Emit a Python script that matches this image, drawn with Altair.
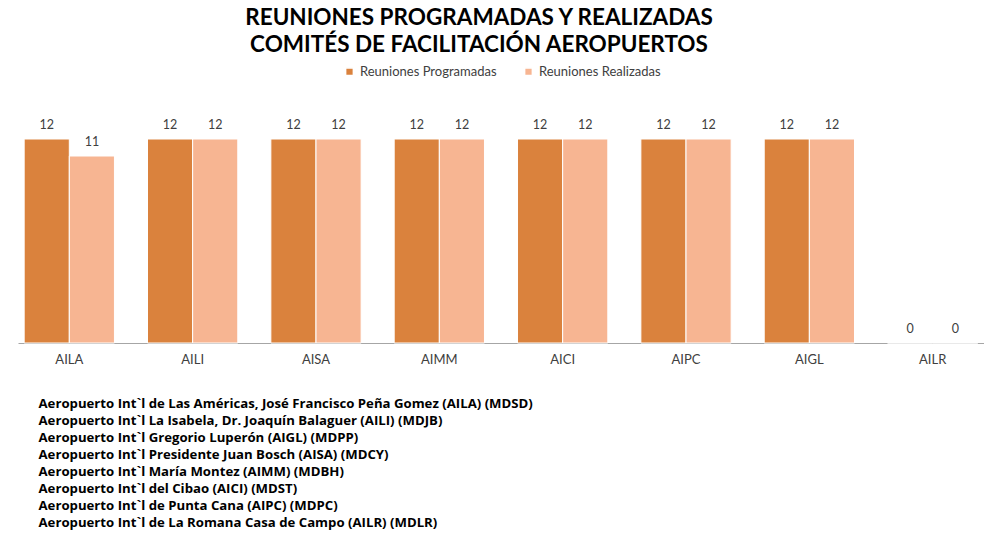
import altair as alt
import pandas as pd

airports = ["AILA", "AILI", "AISA", "AIMM", "AICI", "AIPC", "AIGL", "AILR"]
programadas = [12, 12, 12, 12, 12, 12, 12, 0]
realizadas = [11, 12, 12, 12, 12, 12, 12, 0]
series = ["Reuniones Programadas", "Reuniones Realizadas"]
colors = ["#DA823D", "#F7B592"]
notes = [
    "Aeropuerto Int`l de Las Américas, José Francisco Peña Gomez (AILA) (MDSD)",
    "Aeropuerto Int`l La Isabela, Dr. Joaquín Balaguer (AILI) (MDJB)",
    "Aeropuerto Int`l Gregorio Luperón (AIGL) (MDPP)",
    "Aeropuerto Int`l Presidente Juan Bosch (AISA) (MDCY)",
    "Aeropuerto Int`l María Montez (AIMM) (MDBH)",
    "Aeropuerto Int`l del Cibao (AICI) (MDST)",
    "Aeropuerto Int`l de Punta Cana (AIPC) (MDPC)",
    "Aeropuerto Int`l de La Romana Casa de Campo (AILR) (MDLR)",
]

rows = []
for a, p, r in zip(airports, programadas, realizadas):
    rows.append({"Aeropuerto": a, "Serie": series[0], "Valor": p})
    rows.append({"Aeropuerto": a, "Serie": series[1], "Valor": r})
df = pd.DataFrame(rows)

FONT = "Lato"
LEFT = 18

x = alt.X(
    "Aeropuerto:N",
    sort=airports,
    scale=alt.Scale(paddingInner=0.268, paddingOuter=0.05),
    axis=alt.Axis(
        title=notes,
        titleFont="Open Sans",
        titleFontSize=13.2,
        titleFontWeight="bold",
        titleColor="#000000",
        titleLineHeight=17,
        titleAlign="left",
        titleAnchor="start",
        titleBaseline="top",
        titleX=38 - LEFT,
        titleY=54,
        labelAngle=0,
        labelFont=FONT,
        labelFontSize=13,
        labelColor="#404040",
        labelPadding=10,
        domainColor="#A6A6A6",
        domainWidth=1.2,
        ticks=False,
        grid=False,
    ),
)
y = alt.Y(
    "Valor:Q",
    scale=alt.Scale(domain=[0, 14]),
    axis=None,
)
xo = alt.XOffset("Serie:N", sort=series)

bars = alt.Chart(df).mark_bar(stroke="#FFFFFF", strokeWidth=1).encode(
    x=x,
    xOffset=xo,
    y=y,
    color=alt.Color(
        "Serie:N",
        sort=series,
        scale=alt.Scale(domain=series, range=colors),
        legend=alt.Legend(
            title=None,
            orient="none",
            legendX=343 - LEFT,
            legendY=-40,
            direction="horizontal",
            symbolType="square",
            symbolSize=60,
            labelFont=FONT,
            labelFontSize=13,
            labelColor="#404040",
            columnPadding=24,
        ),
    ),
)

labels = alt.Chart(df).mark_text(
    dy=-14, font=FONT, fontSize=12.5, color="#404040"
).encode(x=alt.X("Aeropuerto:N", sort=airports), xOffset=xo, y=y, text="Valor:Q")

chart = alt.layer(bars, labels).properties(
    width=966,
    height=238,
    title=alt.TitleParams(
        text=["REUNIONES PROGRAMADAS Y REALIZADAS", "COMITÉS DE FACILITACIÓN AEROPUERTOS"],
        font=FONT,
        fontSize=22.5,
        fontWeight="bold",
        color="#000000",
        lineHeight=27,
        anchor="middle",
        dx=479 - (LEFT + 483),
        offset=9,
    ),
    autosize=alt.AutoSizeParams(type="none"),
    padding={"left": LEFT, "top": 105, "right": 0, "bottom": 190},
).configure_view(stroke=None)

chart.save("out.html", embed_options={"renderer": "svg", "actions": False})
